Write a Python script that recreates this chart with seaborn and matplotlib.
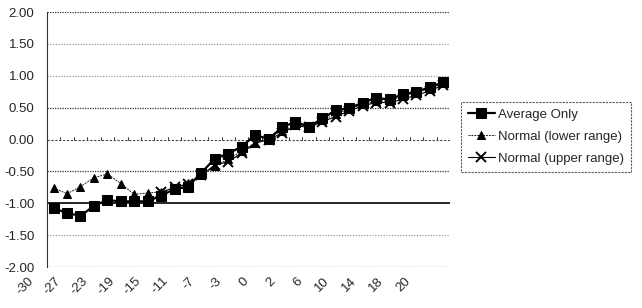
import numpy as np
import pandas as pd
import seaborn as sns
import matplotlib.pyplot as plt
import matplotlib.transforms as mtransforms

# Kategorie osi X (etykiety pokazywane co drugą)
categories = [-30, -29, -27, -25, -23, -21, -19, -17, -15, -13, -11, -9, -7, -5, -3,
              -1, 0, 1, 2, 4, 6, 8, 10, 12, 14, 16, 18, 19, 20, 22]

average_only = [-1.08, -1.15, -1.20, -1.04, -0.95, -0.97, -0.97, -0.97, -0.88, -0.78,
                -0.74, -0.52, -0.30, -0.22, -0.11, 0.07, 0.01, 0.19, 0.28, 0.20,
                0.33, 0.46, 0.49, 0.58, 0.65, 0.63, 0.71, 0.75, 0.82, 0.90]

normal_lower = [-0.76, -0.85, -0.74, -0.60, -0.54, -0.69, -0.86, -0.84, -0.82, -0.76,
                -0.68, -0.56, -0.41, -0.31, -0.18, -0.05, 0.02, 0.14, 0.22, 0.21,
                0.30, 0.40, 0.48, 0.55, 0.60, 0.61, 0.68, 0.74, 0.80, 0.88]

normal_upper = [np.nan, np.nan, np.nan, np.nan, np.nan, np.nan, np.nan, np.nan, -0.83, -0.75,
                -0.70, -0.56, -0.40, -0.35, -0.21, -0.06, 0.00, 0.10, 0.22, 0.19,
                0.28, 0.36, 0.45, 0.53, 0.58, 0.58, 0.63, 0.70, 0.76, 0.86]

y_ticks = [2.0, 1.5, 1.0, 0.5, 0.0, -0.5, -1.0, -1.5, -2.0]

sns.set_style("white")
plt.rcParams["font.family"] = ["Liberation Sans", "DejaVu Sans"]

df = pd.DataFrame({
    "pos": np.arange(len(categories)),
    "Average Only": average_only,
    "Normal (lower range)": normal_lower,
    "Normal (upper range)": normal_upper,
})

fig = plt.figure(figsize=(6.42, 3.08), dpi=100)
ax = fig.add_axes([0.073, 0.133, 0.628, 0.828])

# Linie siatki
for yv in y_ticks:
    if yv == -1.0:
        ax.axhline(yv, color="black", linewidth=1.2, zorder=1)
    elif yv in (2.0, -2.0, 0.5, -0.5):
        ax.axhline(yv, color="#333333", linewidth=0.9, linestyle=(0, (1, 1)), zorder=1)
    elif yv == 0.0:
        continue
    else:
        ax.axhline(yv, color="#888888", linewidth=0.8, linestyle=(0, (1, 1.5)), zorder=1)

# Oś X na poziomie zera z kreskami
ax.axhline(0, color="#444444", linewidth=0.8, linestyle=(0, (2, 1.5)), zorder=1)
for p in np.arange(len(categories) + 1) - 0.5:
    ax.plot([p, p], [0, 0.035], color="#444444", linewidth=0.7, zorder=1)

sns.lineplot(data=df, x="pos", y="Normal (lower range)", ax=ax, color="#222222",
             linewidth=0.7, linestyle=(0, (2, 1)), marker="^", markersize=6,
             markeredgecolor="black", markerfacecolor="black",
             label="Normal (lower range)", zorder=3)
sns.lineplot(data=df, x="pos", y="Normal (upper range)", ax=ax, color="black",
             linewidth=0.8, marker="x", markersize=7, markeredgewidth=1.4,
             markeredgecolor="black", label="Normal (upper range)", zorder=4)
sns.lineplot(data=df, x="pos", y="Average Only", ax=ax, color="black",
             linewidth=1.6, marker="s", markersize=7, markeredgecolor="black",
             markerfacecolor="black", label="Average Only", zorder=5)

handles, labels = ax.get_legend_handles_labels()
ax.get_legend().remove()

ax.set_xlim(-0.5, len(categories) - 0.5)
ax.set_ylim(-2.0, 2.0)
ax.set_yticks(y_ticks)
ax.set_yticklabels([f"{v:.2f}" for v in y_ticks], fontsize=9.5)
ax.set_xticks(np.arange(0, len(categories), 2))
ax.set_xticklabels([])
ax.tick_params(axis="both", length=0)
ax.tick_params(axis="y", pad=9)

# Etykiety osi X (obrócone, przesunięte w lewo jak w oryginale)
offset = mtransforms.ScaledTranslation(-26 / 100, -8 / 100, fig.dpi_scale_trans)
trans = mtransforms.blended_transform_factory(ax.transData, ax.transAxes) + offset
for p, c in zip(np.arange(0, len(categories), 2), categories[::2]):
    ax.text(p, 0, str(c), transform=trans, fontsize=9.5, rotation=45,
            ha="right", va="top", rotation_mode="anchor")

ax.set_xlabel("")
ax.set_ylabel("")

for side in ["top", "right", "bottom"]:
    ax.spines[side].set_visible(False)
ax.spines["left"].set_color("#333333")
ax.spines["left"].set_linestyle((0, (2, 1)))
ax.spines["left"].set_linewidth(0.8)

# Legenda
order = [labels.index(n) for n in ["Average Only", "Normal (lower range)", "Normal (upper range)"]]
leg = fig.legend([handles[i] for i in order], [labels[i] for i in order],
                 loc="upper left", bbox_to_anchor=(461 / 642, 1 - 102 / 308),
                 fontsize=9.5, frameon=True, fancybox=False, edgecolor="#333333",
                 handlelength=2.1, borderpad=0.5, labelspacing=0.75, handletextpad=0.2,
                 borderaxespad=0)
leg.get_frame().set_linestyle((0, (2, 1)))
leg.get_frame().set_linewidth(0.8)

plt.savefig("out.png", dpi=100)
